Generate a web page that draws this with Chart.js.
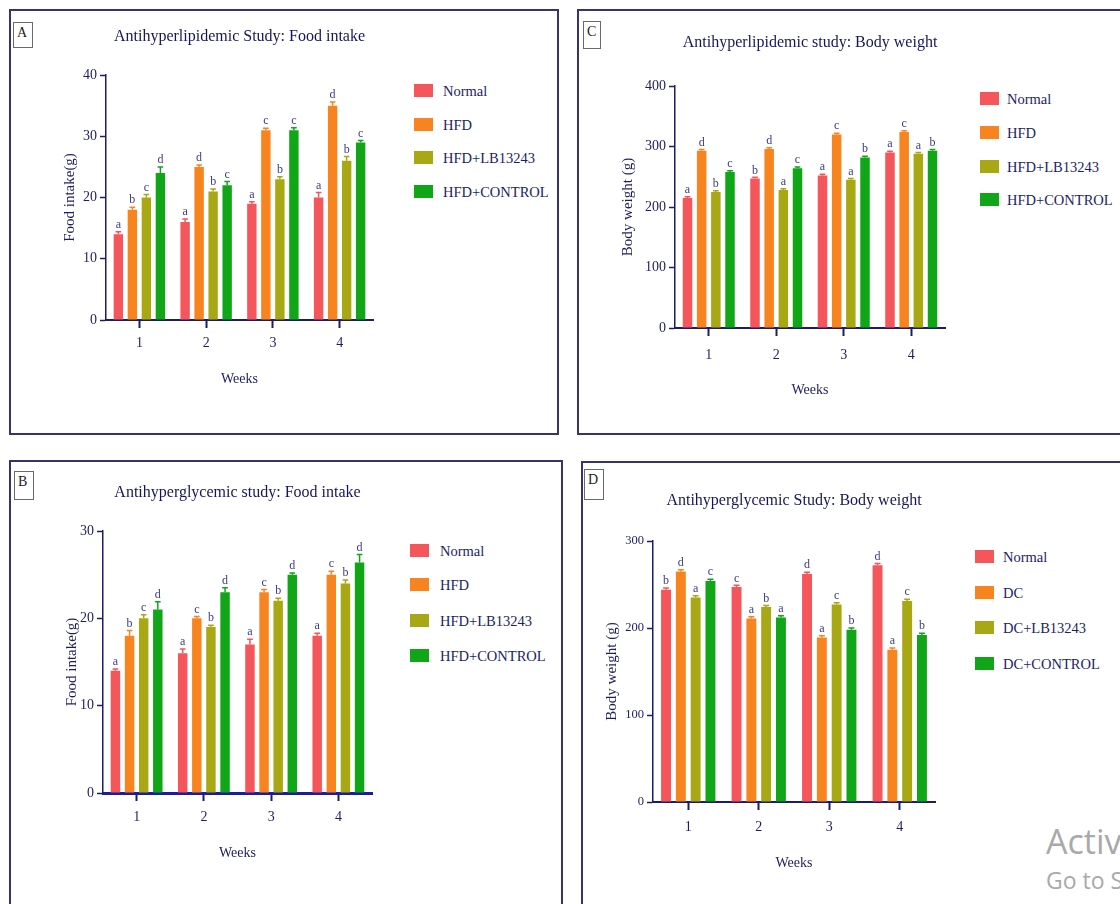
<!DOCTYPE html>
<html>
<head>
<meta charset="utf-8">
<script src="https://cdn.jsdelivr.net/npm/chart.js@4.4.1/dist/chart.umd.min.js"></script>
<style>
  body { margin: 0; width: 1120px; height: 904px; overflow: hidden; background: #fff; position: relative; font-family: 'Liberation Serif', serif; }
  .panel { position: absolute; border: 2px solid #35356b; box-sizing: border-box; }
  .tag { position: absolute; border: 1px solid #6a6a6a; box-sizing: border-box; font-size: 14px; color: #222; padding: 2px 0 0 3px; background: #fff; }
  canvas { position: absolute; }
  .leg { position: absolute; white-space: nowrap; color: #1d1d63; font-size: 14.5px; line-height: 16px; }
  .leg span { position: absolute; top: 1px; }
  .wm { position: absolute; color: #a9a9a9; font-family: 'Open Sans', sans-serif; white-space: nowrap; }
</style>
</head>
<body>
<div class="panel" style="left:9px;top:9px;width:550px;height:426px"></div>
<div class="panel" style="left:577px;top:9px;width:560px;height:426px"></div>
<div class="panel" style="left:9px;top:460px;width:554px;height:460px"></div>
<div class="panel" style="left:581px;top:461px;width:560px;height:460px"></div>

<div class="tag" style="left:13px;top:22px;width:20px;height:26px">A</div>
<div class="tag" style="left:583px;top:21px;width:18px;height:28px">C</div>
<div class="tag" style="left:14px;top:471px;width:20px;height:29px">B</div>
<div class="tag" style="left:584px;top:469px;width:20px;height:31px">D</div>

<canvas id="chartA"></canvas>
<canvas id="chartC"></canvas>
<canvas id="chartB"></canvas>
<canvas id="chartD"></canvas>

<div class="wm" style="left:1046px;top:818px;font-size:34px">Activate Windows</div>
<div class="wm" style="left:1046px;top:864px;font-size:23px">Go to Settings to activate Windows.</div>

<script>
// x categories
var weeks = ['1', '2', '3', '4']

var groupsHFD = ['Normal', 'HFD', 'HFD+LB13243', 'HFD+CONTROL']
var groupsDC = ['Normal', 'DC', 'DC+LB13243', 'DC+CONTROL']
var colors = ['#f4565c', '#f7841e', '#a8a814', '#11a617']

// A - antihyperlipidemic, food intake (g)
var lipidFoodNormal = [14, 16, 19, 20]
var lipidFoodHFD = [18, 25, 31, 35]
var lipidFoodLB = [20, 21, 23, 26]
var lipidFoodControl = [24, 22, 31, 29]
var lipidFoodErr = [[0.4, 0.5, 0.3, 0.8], [0.4, 0.3, 0.3, 0.6], [0.5, 0.4, 0.4, 0.7], [1.0, 0.6, 0.4, 0.3]]
var lipidFoodLetters = [['a', 'a', 'a', 'a'], ['b', 'd', 'c', 'd'], ['c', 'b', 'b', 'b'], ['d', 'c', 'c', 'c']]

// C - antihyperlipidemic, body weight (g)
var lipidWeightNormal = [215, 247, 252, 290]
var lipidWeightHFD = [293, 296, 320, 324]
var lipidWeightLB = [225, 228, 245, 288]
var lipidWeightControl = [258, 264, 282, 293]
var lipidWeightErr = [[2, 2, 2, 2], [2, 2, 2, 2], [2, 2, 2, 2], [2, 2, 2, 2]]
var lipidWeightLetters = [['a', 'b', 'a', 'a'], ['d', 'd', 'c', 'c'], ['b', 'a', 'a', 'a'], ['c', 'c', 'b', 'b']]

// B - antihyperglycemic, food intake (g)
var glyFoodNormal = [14, 16, 17, 18]
var glyFoodHFD = [18, 20, 23, 25]
var glyFoodLB = [20, 19, 22, 24]
var glyFoodControl = [21, 23, 25, 26.4]
var glyFoodErr = [[0.2, 0.5, 0.6, 0.3], [0.6, 0.2, 0.3, 0.4], [0.4, 0.2, 0.3, 0.4], [0.9, 0.5, 0.2, 0.9]]
var glyFoodLetters = [['a', 'a', 'a', 'a'], ['b', 'c', 'c', 'c'], ['c', 'b', 'b', 'b'], ['d', 'd', 'd', 'd']]

// D - antihyperglycemic, body weight (g)
var glyWeightNormal = [244, 247, 262, 272]
var glyWeightDC = [265, 211, 189, 175]
var glyWeightLB = [235, 224, 227, 231]
var glyWeightControl = [254, 212, 198, 192]
var glyWeightErr = [[2, 2, 2, 2], [2, 2, 2, 2], [2, 2, 2, 2], [2, 2, 2, 2]]
var glyWeightLetters = [['b', 'c', 'd', 'd'], ['d', 'a', 'a', 'a'], ['a', 'b', 'c', 'c'], ['c', 'a', 'b', 'b']]

var navy = '#1d1d63'
Chart.defaults.font.family = "'Liberation Serif', serif"
Chart.defaults.color = navy

// letters + small error bars on top of each bar
var marksPlugin = {
    id: 'marks',
    afterDatasetsDraw: function(chart) {
        var ctx = chart.ctx
        var yScale = chart.scales.y
        chart.data.datasets.forEach(function(ds, i) {
            chart.getDatasetMeta(i).data.forEach(function(bar, j) {
                var err = ds.errors[j]
                var top = yScale.getPixelForValue(ds.data[j] + err)
                ctx.save()
                ctx.strokeStyle = ds.backgroundColor
                ctx.lineWidth = 1.5
                ctx.beginPath()
                ctx.moveTo(bar.x, bar.y)
                ctx.lineTo(bar.x, top)
                ctx.moveTo(bar.x - bar.width * 0.3, top)
                ctx.lineTo(bar.x + bar.width * 0.3, top)
                ctx.stroke()
                ctx.fillStyle = '#3a3a8c'
                ctx.font = "12px 'Liberation Serif'"
                ctx.textAlign = 'center'
                ctx.textBaseline = 'bottom'
                ctx.fillText(ds.letters[j], bar.x, top - 1)
                ctx.restore()
            })
        })
    }
}

function makePanel(p) {
    var canvas = document.getElementById(p.id)
    var cl = p.canvasLeft, ct = p.canvasTop
    var cr = p.area[2] + 8
    var cb = p.weeksY + 10
    canvas.width = cr - cl
    canvas.height = cb - ct
    canvas.style.left = cl + 'px'
    canvas.style.top = ct + 'px'

    var titleLH = 16 * 1.2
    var padTop = p.titleY - ct - titleLH / 2
    var tickLen = 8

    var datasets = p.series.map(function(s, i) {
        return {
            label: p.groups[i],
            data: s,
            errors: p.errors[i],
            letters: p.letters[i],
            backgroundColor: colors[i],
            borderWidth: 0,
            categoryPercentage: 0.84,
            barPercentage: 0.67
        }
    })

    var chart = new Chart(canvas.getContext('2d'), {
        type: 'bar',
        data: { labels: weeks, datasets: datasets },
        plugins: [marksPlugin],
        options: {
            responsive: false,
            animation: false,
            layout: { padding: { left: 0, top: 0, bottom: 0, right: cr - p.area[2] } },
            plugins: {
                legend: { display: false },
                tooltip: { enabled: false },
                title: {
                    display: true,
                    text: p.title,
                    fullSize: false,
                    color: '#16165a',
                    font: { size: 16, weight: 'normal' },
                    padding: { top: padTop, bottom: p.area[1] - ct - padTop - titleLH }
                }
            },
            scales: {
                x: {
                    grid: { display: true, offset: false, drawOnChartArea: false, drawTicks: true, tickLength: tickLen, tickColor: navy, tickWidth: 2 },
                    border: { display: true, color: p.baseColor, width: p.baseWidth },
                    ticks: { color: navy, font: { size: 14 }, padding: p.xLabelY - p.area[3] - tickLen - 8.4 },
                    title: { display: true, text: 'Weeks', color: navy, font: { size: 14 }, padding: { top: 0, bottom: cb - p.weeksY - 8.4 } },
                    afterFit: function(s) { s.height = cb - p.area[3] }
                },
                y: {
                    min: 0,
                    max: p.ymax,
                    grid: { display: true, drawOnChartArea: false, drawTicks: true, tickLength: 6, tickColor: navy, tickWidth: 1.5 },
                    border: { display: true, color: navy, width: 1.5 },
                    ticks: { stepSize: p.step, color: navy, font: { size: p.tickSize }, padding: 3 },
                    title: { display: true, text: p.yTitle, color: navy, font: { size: 15 }, padding: { top: p.yTitleX - cl - 9, bottom: 0 } },
                    afterFit: function(s) { s.width = p.area[0] - cl }
                }
            }
        }
    })

    // html legend built from the chart datasets
    chart.data.datasets.forEach(function(ds, i) {
        var row = document.createElement('div')
        row.className = 'leg'
        row.style.left = p.legendX + 'px'
        row.style.top = (p.legendY[i] - 8) + 'px'
        row.innerHTML = '<span style="left:0;width:19px;height:13px;background:' + ds.backgroundColor + '"></span>' +
            '<span style="left:' + (p.legendTextX - p.legendX) + 'px;top:0">' + ds.label + '</span>'
        document.body.appendChild(row)
    })
    return chart
}

makePanel({
    id: 'chartA', canvasLeft: 12, canvasTop: 12,
    area: [106, 75, 373, 320],
    title: 'Antihyperlipidemic Study: Food intake', titleY: 37,
    yTitle: 'Food intake(g)', yTitleX: 70, ymax: 40, step: 10, tickSize: 14,
    xLabelY: 343, weeksY: 379, baseColor: navy, baseWidth: 2,
    groups: groupsHFD,
    series: [lipidFoodNormal, lipidFoodHFD, lipidFoodLB, lipidFoodControl],
    errors: lipidFoodErr, letters: lipidFoodLetters,
    legendX: 414, legendTextX: 443, legendY: [91, 125, 158, 192]
})

makePanel({
    id: 'chartC', canvasLeft: 580, canvasTop: 12,
    area: [675, 86, 945, 328],
    title: 'Antihyperlipidemic study: Body weight', titleY: 43,
    yTitle: 'Body weight (g)', yTitleX: 628, ymax: 400, step: 100, tickSize: 14,
    xLabelY: 355, weeksY: 390, baseColor: navy, baseWidth: 2,
    groups: groupsHFD,
    series: [lipidWeightNormal, lipidWeightHFD, lipidWeightLB, lipidWeightControl],
    errors: lipidWeightErr, letters: lipidWeightLetters,
    legendX: 980, legendTextX: 1007, legendY: [99, 133, 167, 200]
})

makePanel({
    id: 'chartB', canvasLeft: 12, canvasTop: 463,
    area: [103, 531, 372, 793],
    title: 'Antihyperglycemic study: Food intake', titleY: 493,
    yTitle: 'Food intake(g)', yTitleX: 72, ymax: 30, step: 10, tickSize: 14,
    xLabelY: 817, weeksY: 853, baseColor: '#1c1c9e', baseWidth: 3,
    groups: groupsHFD,
    series: [glyFoodNormal, glyFoodHFD, glyFoodLB, glyFoodControl],
    errors: glyFoodErr, letters: glyFoodLetters,
    legendX: 410, legendTextX: 440, legendY: [551, 585, 621, 656]
})

makePanel({
    id: 'chartD', canvasLeft: 584, canvasTop: 464,
    area: [653, 541, 935, 802],
    title: 'Antihyperglycemic Study: Body weight', titleY: 501,
    yTitle: 'Body weight (g)', yTitleX: 612, ymax: 300, step: 100, tickSize: 12.5,
    xLabelY: 827, weeksY: 863, baseColor: navy, baseWidth: 2,
    groups: groupsDC,
    series: [glyWeightNormal, glyWeightDC, glyWeightLB, glyWeightControl],
    errors: glyWeightErr, letters: glyWeightLetters,
    legendX: 975, legendTextX: 1003, legendY: [557, 593, 628, 664]
})
</script>
</body>
</html>
